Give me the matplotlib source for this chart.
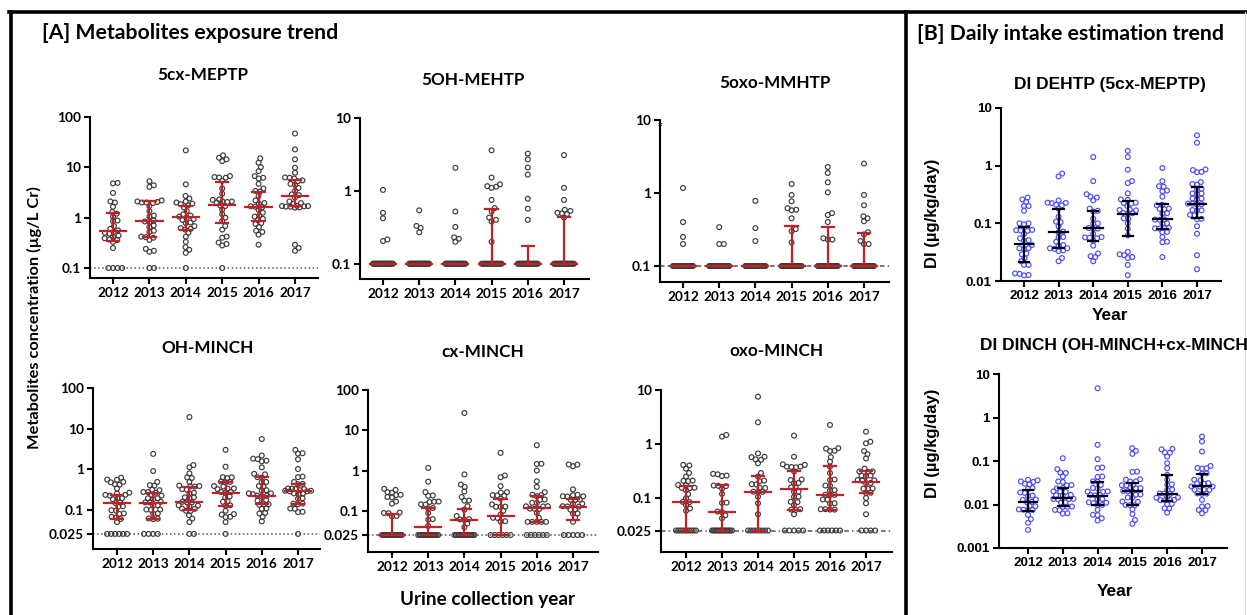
import numpy as np
import matplotlib
matplotlib.use("Agg")
import matplotlib.pyplot as plt
from matplotlib.lines import Line2D

years = ["2012", "2013", "2014", "2015", "2016", "2017"]

# ---- [A] metabolite concentrations (ug/L Cr), one list per year ----
meptp = [
    [4.9, 4.8, 3.1, 2.1, 2.0, 1.65, 1.3, 1.2, 1.05, 0.88, 0.85, 0.68, 0.6, 0.56, 0.52, 0.5, 0.48, 0.44, 0.42, 0.39, 0.37, 0.36, 0.33, 0.25, 0.1, 0.1, 0.1, 0.1],
    [5.3, 4.4, 4.1, 2.2, 2.1, 2.05, 2.0, 2.0, 1.95, 1.7, 1.35, 1.1, 1.05, 0.88, 0.84, 0.82, 0.7, 0.65, 0.55, 0.52, 0.42, 0.41, 0.4, 0.36, 0.24, 0.22, 0.21, 0.1, 0.1],
    [21.7, 4.6, 2.7, 2.4, 2.1, 2.0, 1.9, 1.85, 1.75, 1.6, 1.35, 1.17, 1.1, 1.05, 1.0, 0.93, 0.9, 0.8, 0.78, 0.68, 0.62, 0.6, 0.58, 0.5, 0.42, 0.33, 0.26, 0.23, 0.2, 0.1],
    [17.3, 15.5, 14.4, 13.3, 6.7, 6.4, 6.3, 6.2, 5.4, 3.8, 3.0, 2.3, 2.25, 2.1, 2.1, 2.05, 2.0, 1.75, 1.7, 1.45, 1.17, 1.0, 0.86, 0.68, 0.58, 0.42, 0.4, 0.32, 0.3, 0.28, 0.1],
    [15.1, 12.4, 10.1, 8.4, 6.7, 6.2, 6.0, 4.7, 3.8, 3.4, 3.3, 2.7, 2.2, 1.95, 1.9, 1.68, 1.65, 1.62, 1.42, 1.26, 1.1, 1.05, 0.95, 0.9, 0.78, 0.75, 0.65, 0.55, 0.52, 0.46, 0.29],
    [47, 22.7, 14.4, 9.8, 7.8, 6.3, 6.2, 6.0, 5.5, 5.3, 4.7, 4.5, 3.9, 3.4, 2.9, 2.8, 2.5, 2.1, 1.95, 1.9, 1.72, 1.7, 1.7, 1.68, 1.66, 1.65, 1.6, 1.58, 0.29, 0.25, 0.22],
]
meptp_q1 = [0.34, 0.41, 0.58, 0.78, 0.87, 1.7]
meptp_med = [0.55, 0.84, 1.05, 1.8, 1.65, 2.7]
meptp_q3 = [1.22, 2.1, 1.7, 5.2, 3.3, 5.5]

oh_mehtp = [
    [1.03, 0.5, 0.42, 0.215, 0.205] + [0.1] * 25,
    [0.54, 0.33, 0.31, 0.27] + [0.1] * 26,
    [2.07, 0.52, 0.32, 0.23, 0.22, 0.2] + [0.1] * 24,
    [3.6, 1.52, 1.23, 1.16, 1.14, 1.1, 0.75, 0.58, 0.52, 0.43, 0.4, 0.38, 0.2] + [0.1] * 18,
    [3.25, 2.7, 2.09, 1.67, 0.78, 0.57, 0.4] + [0.1] * 23,
    [3.1, 1.1, 0.75, 0.55, 0.53, 0.5, 0.49, 0.48, 0.43] + [0.1] * 21,
]
oh_mehtp_q1 = [0.1] * 6
oh_mehtp_med = [0.1] * 6
oh_mehtp_q3 = [0.1, 0.1, 0.1, 0.57, 0.175, 0.44]

oxo_mmhtp = [
    [1.17, 0.4, 0.25, 0.2] + [0.1] * 26,
    [0.34, 0.2, 0.2] + [0.1] * 27,
    [0.78, 0.33, 0.22] + [0.1] * 27,
    [1.33, 0.94, 0.77, 0.62, 0.59, 0.58, 0.45, 0.32, 0.3, 0.21] + [0.1] * 20,
    [2.27, 1.88, 1.4, 1.02, 0.53, 0.5, 0.4, 0.24, 0.23, 0.23] + [0.1] * 20,
    [2.53, 0.94, 0.68, 0.48, 0.45, 0.41, 0.29, 0.27, 0.22, 0.2, 0.2] + [0.1] * 19,
]
oxo_mmhtp_q1 = [0.1] * 6
oxo_mmhtp_med = [0.1] * 6
oxo_mmhtp_q3 = [0.1, 0.1, 0.1, 0.35, 0.34, 0.28]

oh_minch = [
    [0.61, 0.55, 0.54, 0.48, 0.47, 0.42, 0.41, 0.33, 0.26, 0.25, 0.23, 0.23, 0.22, 0.19, 0.19, 0.18, 0.15, 0.145, 0.12, 0.118, 0.096, 0.094, 0.08, 0.078, 0.066, 0.064, 0.058, 0.049] + [0.025] * 6,
    [2.36, 0.89, 0.48, 0.4, 0.39, 0.31, 0.3, 0.27, 0.27, 0.26, 0.23, 0.22, 0.19, 0.19, 0.18, 0.155, 0.15, 0.15, 0.127, 0.125, 0.1, 0.1, 0.098, 0.08, 0.078, 0.06, 0.059, 0.058] + [0.025] * 4,
    [19.2, 1.25, 1.1, 0.78, 0.62, 0.6, 0.48, 0.39, 0.38, 0.37, 0.37, 0.32, 0.31, 0.26, 0.25, 0.2, 0.2, 0.19, 0.155, 0.15, 0.15, 0.127, 0.125, 0.12, 0.106, 0.104, 0.093, 0.092, 0.072, 0.06, 0.049] + [0.025] * 2,
    [2.97, 1.14, 0.63, 0.62, 0.6, 0.49, 0.48, 0.47, 0.38, 0.37, 0.33, 0.33, 0.32, 0.27, 0.27, 0.26, 0.21, 0.2, 0.16, 0.155, 0.127, 0.125, 0.093, 0.077, 0.075, 0.066, 0.065, 0.049, 0.025],
    [5.5, 2.15, 1.8, 1.75, 1.6, 1.55, 1.1, 0.76, 0.74, 0.63, 0.61, 0.48, 0.47, 0.38, 0.37, 0.3, 0.29, 0.25, 0.25, 0.24, 0.22, 0.22, 0.21, 0.17, 0.165, 0.135, 0.135, 0.13, 0.106, 0.104, 0.082, 0.08, 0.066, 0.051],
    [2.97, 2.45, 2.4, 1.74, 1.0, 0.65, 0.63, 0.48, 0.43, 0.42, 0.33, 0.33, 0.32, 0.32, 0.3, 0.29, 0.29, 0.28, 0.28, 0.25, 0.25, 0.24, 0.19, 0.185, 0.14, 0.14, 0.135, 0.106, 0.104, 0.088, 0.086, 0.025],
]
oh_minch_q1 = [0.058, 0.058, 0.095, 0.125, 0.135, 0.135]
oh_minch_med = [0.145, 0.145, 0.15, 0.26, 0.22, 0.28]
oh_minch_q3 = [0.23, 0.25, 0.35, 0.47, 0.63, 0.43]

cx_minch = [
    [0.35, 0.33, 0.29, 0.28, 0.25, 0.245, 0.22, 0.215, 0.17, 0.15, 0.09, 0.088, 0.087, 0.074, 0.073] + [0.025] * 16,
    [1.16, 0.53, 0.29, 0.24, 0.235, 0.17, 0.168, 0.165, 0.145, 0.143, 0.117, 0.115, 0.088, 0.062, 0.06, 0.042] + [0.025] * 15,
    [26.9, 0.8, 0.45, 0.39, 0.3, 0.22, 0.18, 0.178, 0.13, 0.107, 0.074, 0.062, 0.061, 0.06, 0.048, 0.039] + [0.025] * 14,
    [2.74, 0.75, 0.68, 0.41, 0.29, 0.285, 0.245, 0.24, 0.235, 0.2, 0.144, 0.127, 0.126, 0.125, 0.1, 0.081, 0.067, 0.066, 0.055, 0.054] + [0.025] * 6,
    [4.25, 1.47, 1.45, 1.0, 0.54, 0.39, 0.29, 0.25, 0.245, 0.23, 0.19, 0.188, 0.158, 0.156, 0.13, 0.129, 0.128, 0.113, 0.112, 0.111, 0.089, 0.067, 0.053, 0.053, 0.053, 0.053, 0.053] + [0.025] * 6,
    [1.41, 1.4, 1.28, 0.34, 0.25, 0.245, 0.23, 0.228, 0.226, 0.19, 0.188, 0.186, 0.15, 0.148, 0.13, 0.128, 0.126, 0.108, 0.106, 0.086, 0.085, 0.067, 0.053] + [0.025] * 5,
]
cx_minch_q1 = [0.025, 0.025, 0.025, 0.025, 0.053, 0.058]
cx_minch_med = [0.025, 0.04, 0.058, 0.075, 0.118, 0.125]
cx_minch_q3 = [0.085, 0.115, 0.11, 0.2, 0.23, 0.2]

oxo_minch = [
    [0.41, 0.4, 0.35, 0.29, 0.25, 0.21, 0.208, 0.205, 0.174, 0.172, 0.155, 0.154, 0.153, 0.14, 0.118, 0.099, 0.085, 0.084, 0.074, 0.064, 0.058] + [0.025] * 10,
    [1.47, 1.37, 0.28, 0.275, 0.26, 0.255, 0.17, 0.168, 0.166, 0.15, 0.119, 0.082, 0.081, 0.056, 0.055, 0.048, 0.042] + [0.025] * 14,
    [7.5, 2.52, 0.67, 0.58, 0.57, 0.52, 0.51, 0.44, 0.29, 0.25, 0.21, 0.205, 0.18, 0.178, 0.155, 0.153, 0.131, 0.13, 0.129, 0.106, 0.08, 0.05] + [0.025] * 8,
    [1.43, 0.58, 0.42, 0.41, 0.38, 0.38, 0.375, 0.37, 0.31, 0.22, 0.215, 0.19, 0.188, 0.158, 0.156, 0.131, 0.13, 0.106, 0.105, 0.085, 0.084, 0.074, 0.062, 0.061, 0.06, 0.05] + [0.025] * 5,
    [2.25, 0.84, 0.82, 0.75, 0.74, 0.57, 0.47, 0.38, 0.29, 0.22, 0.215, 0.17, 0.168, 0.14, 0.138, 0.115, 0.114, 0.113, 0.094, 0.093, 0.08, 0.079, 0.062, 0.062, 0.061, 0.061] + [0.025] * 6,
    [1.69, 1.1, 1.03, 0.74, 0.65, 0.54, 0.35, 0.31, 0.31, 0.305, 0.26, 0.26, 0.255, 0.215, 0.213, 0.21, 0.19, 0.188, 0.15, 0.149, 0.148, 0.125, 0.124, 0.1, 0.08, 0.05] + [0.025] * 4,
]
oxo_minch_q1 = [0.025, 0.025, 0.025, 0.06, 0.06, 0.125]
oxo_minch_med = [0.083, 0.055, 0.13, 0.145, 0.114, 0.195]
oxo_minch_q3 = [0.17, 0.175, 0.26, 0.31, 0.39, 0.31]

# ---- [B] daily intake (ug/kg/day) ----
di_dehtp = [
    [0.28, 0.26, 0.235, 0.2, 0.2, 0.165, 0.1, 0.1, 0.096, 0.077, 0.076, 0.075, 0.074, 0.066, 0.055, 0.051, 0.05, 0.042, 0.037, 0.037, 0.036, 0.03, 0.029, 0.025, 0.022, 0.019, 0.019, 0.0135, 0.0133, 0.0127, 0.0125],
    [0.73, 0.65, 0.25, 0.228, 0.226, 0.224, 0.21, 0.205, 0.18, 0.13, 0.107, 0.105, 0.089, 0.072, 0.07, 0.058, 0.057, 0.048, 0.042, 0.041, 0.037, 0.037, 0.036, 0.034, 0.033, 0.025, 0.022],
    [1.41, 0.54, 0.32, 0.29, 0.28, 0.25, 0.18, 0.165, 0.16, 0.12, 0.1, 0.099, 0.083, 0.081, 0.08, 0.066, 0.058, 0.057, 0.056, 0.055, 0.05, 0.041, 0.03, 0.027, 0.026, 0.022],
    [1.8, 1.41, 0.85, 0.54, 0.5, 0.33, 0.26, 0.255, 0.228, 0.225, 0.22, 0.2, 0.172, 0.17, 0.168, 0.152, 0.15, 0.148, 0.122, 0.12, 0.1, 0.081, 0.062, 0.032, 0.029, 0.028, 0.026, 0.025, 0.019, 0.0126],
    [0.91, 0.54, 0.44, 0.43, 0.37, 0.36, 0.29, 0.21, 0.205, 0.18, 0.178, 0.175, 0.15, 0.148, 0.117, 0.116, 0.115, 0.1, 0.099, 0.084, 0.083, 0.082, 0.081, 0.071, 0.07, 0.058, 0.048, 0.047, 0.026],
    [3.35, 2.5, 0.86, 0.84, 0.78, 0.77, 0.52, 0.48, 0.47, 0.4, 0.39, 0.33, 0.33, 0.32, 0.27, 0.27, 0.26, 0.22, 0.22, 0.215, 0.21, 0.17, 0.168, 0.165, 0.14, 0.138, 0.12, 0.118, 0.089, 0.066, 0.028, 0.016],
]
di_dehtp_q1 = [0.021, 0.038, 0.05, 0.061, 0.08, 0.125]
di_dehtp_med = [0.043, 0.071, 0.083, 0.145, 0.117, 0.22]
di_dehtp_q3 = [0.085, 0.18, 0.165, 0.24, 0.22, 0.42]

di_dinch = [
    [0.037, 0.036, 0.034, 0.033, 0.03, 0.029, 0.024, 0.023, 0.019, 0.0185, 0.016, 0.0155, 0.013, 0.0128, 0.0115, 0.0113, 0.0093, 0.0091, 0.0077, 0.0076, 0.0075, 0.0074, 0.0058, 0.0046, 0.0038, 0.0026],
    [0.116, 0.065, 0.054, 0.053, 0.044, 0.034, 0.033, 0.028, 0.0275, 0.024, 0.0235, 0.02, 0.0198, 0.0196, 0.0166, 0.0164, 0.0162, 0.0135, 0.0134, 0.0133, 0.0132, 0.0112, 0.011, 0.009, 0.0089, 0.0088, 0.0075, 0.0074, 0.0063, 0.0062],
    [4.7, 0.235, 0.11, 0.071, 0.069, 0.044, 0.043, 0.034, 0.0335, 0.028, 0.024, 0.0235, 0.02, 0.0198, 0.0196, 0.0166, 0.0164, 0.0162, 0.0134, 0.0132, 0.0112, 0.011, 0.0108, 0.0098, 0.0097, 0.0075, 0.0058, 0.0057, 0.0048, 0.0043],
    [0.197, 0.171, 0.146, 0.057, 0.056, 0.038, 0.037, 0.034, 0.0335, 0.028, 0.0278, 0.0275, 0.024, 0.0238, 0.0235, 0.0205, 0.0203, 0.02, 0.017, 0.0168, 0.0145, 0.0143, 0.0117, 0.0115, 0.0098, 0.0097, 0.0096, 0.0078, 0.006, 0.0044, 0.0036],
    [0.19, 0.185, 0.157, 0.155, 0.127, 0.089, 0.068, 0.048, 0.037, 0.029, 0.0285, 0.022, 0.0215, 0.018, 0.0178, 0.0176, 0.0147, 0.0145, 0.0143, 0.0128, 0.0127, 0.0126, 0.0125, 0.0103, 0.0101, 0.0082, 0.0081, 0.0065],
    [0.365, 0.28, 0.165, 0.077, 0.069, 0.068, 0.067, 0.052, 0.051, 0.037, 0.036, 0.031, 0.0305, 0.03, 0.026, 0.0258, 0.0256, 0.022, 0.0218, 0.0216, 0.018, 0.0178, 0.0176, 0.0128, 0.0092, 0.009, 0.0075, 0.0074, 0.0063],
]
di_dinch_q1 = [0.0072, 0.009, 0.0098, 0.0098, 0.012, 0.017]
di_dinch_med = [0.0115, 0.014, 0.016, 0.02, 0.017, 0.026]
di_dinch_q3 = [0.022, 0.024, 0.033, 0.032, 0.048, 0.05]

W, H = 1247, 615
RED = "#c42127"
BLUE = "#4b4bff"
GRAY = "#3c3c3c"
FONT_A = "Lato"
FONT_B = "Liberation Sans"

fig = plt.figure(figsize=(W / 100, H / 100), dpi=100)


def px_axes(x0, top, x1, bottom):
    return fig.add_axes([x0 / W, 1 - bottom / H, (x1 - x0) / W, (bottom - top) / H])


def swarm(ax, vals, d=4.6, half=13.0, row_half=10.0):
    """x offsets (data units) for a simple beeswarm, computed in pixel space."""
    vals = np.asarray(vals, float)
    ypx = ax.transData.transform(np.column_stack([np.zeros_like(vals), vals]))[:, 1]
    unit = ax.transData.transform((1, 1))[0] - ax.transData.transform((0, 1))[0]
    off = np.full(len(vals), np.nan)
    # long rows of identical values (detection limit) get squeezed
    u, c = np.unique(vals, return_counts=True)
    for v, n in zip(u, c):
        if n > 1 and (n - 1) * d > 2 * row_half:
            idx = np.where(vals == v)[0]
            off[idx] = np.linspace(-row_half, row_half, n)
    grid = np.linspace(-half, half, 53)
    for i in np.argsort(vals):
        if not np.isnan(off[i]):
            continue
        done = ~np.isnan(off)
        dy = ypx[done] - ypx[i]
        xs = off[done]
        near = np.abs(dy) < d
        cands = [0.0]
        for xj, dyj in zip(xs[near], dy[near]):
            dx = np.sqrt(d * d - dyj * dyj)
            cands += [xj + dx, xj - dx]
        cands = [c for c in sorted(cands, key=abs) if abs(c) <= half]
        for cx in cands:
            if np.all((xs[near] - cx) ** 2 + dy[near] ** 2 >= d * d - 1e-6):
                off[i] = cx
                break
        else:
            # crowded: take the least overlapping spot inside the band
            dist = [np.min((xs[near] - g) ** 2 + dy[near] ** 2) - 0.01 * g * g for g in grid]
            off[i] = grid[int(np.argmax(dist))]
    return off / unit


def panel(rect, xpx, ylim, yticks, ylabels, groups, q1, med, q3,
          point_color, bar_color, font, tsize, med_w, cap_w, half,
          ref=None, ref_style=":"):
    x0, top, x1, bottom = rect
    t12, t17 = xpx
    sp = (t17 - t12) / 5
    ax = px_axes(x0, top, x1, bottom)
    ax.set_yscale("log")
    ax.set_xlim(-(t12 - x0) / sp, 5 + (x1 - t17) / sp)
    ax.set_ylim(*ylim)
    ax.minorticks_off()
    for s in ("top", "right"):
        ax.spines[s].set_visible(False)
    for s in ("left", "bottom"):
        ax.spines[s].set_linewidth(1.5)
    ax.tick_params(width=1.5, length=4.5, pad=2)
    ax.set_xticks(range(6))
    ax.set_xticklabels(years, fontfamily=font, fontweight="bold", fontsize=tsize)
    ax.set_yticks(yticks)
    ax.set_yticklabels(ylabels, fontfamily=font, fontweight="bold", fontsize=tsize)
    if ref is not None:
        ax.axhline(ref, color="#555555", lw=1.1, ls=ref_style, zorder=1)
    for k, vals in enumerate(groups):
        xo = swarm(ax, vals, half=half)
        ax.scatter(k + xo, vals, s=12, facecolors="none", edgecolors=point_color,
                   linewidths=0.85, zorder=2, clip_on=False)
        ax.plot([k, k], [q1[k], q3[k]], color=bar_color, lw=1.6, zorder=3)
        ax.plot([k - cap_w, k + cap_w], [q1[k], q1[k]], color=bar_color, lw=1.6, zorder=3)
        ax.plot([k - cap_w, k + cap_w], [q3[k], q3[k]], color=bar_color, lw=1.6, zorder=3)
        ax.plot([k - med_w, k + med_w], [med[k], med[k]], color=bar_color, lw=1.6, zorder=3)
    return ax


DASHDOT = (0, (3, 2, 1, 2))
TA, TB = 9.8, 9.6
panel((90, 117, 318, 278), (113, 295), (0.0633, 100), [0.1, 1, 10, 100], ["0.1", "1", "10", "100"],
      meptp, meptp_q1, meptp_med, meptp_q3, GRAY, RED, FONT_A, TA, 0.36, 0.17, 13, ref=0.1)
panel((360, 118, 589, 279), (383, 564), (0.0617, 10), [0.1, 1, 10], ["0.1", "1", "10"],
      oh_mehtp, oh_mehtp_q1, oh_mehtp_med, oh_mehtp_q3, GRAY, RED, FONT_A, TA, 0.36, 0.17, 13)
ax3 = panel((660, 120, 889, 282), (683, 864), (0.0604, 10), [0.1, 1, 10], ["0.1", "1", "10"],
            oxo_mmhtp, oxo_mmhtp_q1, oxo_mmhtp_med, oxo_mmhtp_q3, GRAY, RED, FONT_A, TA,
            0.36, 0.17, 13, ref=0.1, ref_style=DASHDOT)
ax3.text(0.0, 0.955, "*", transform=ax3.transAxes, ha="center", va="center", fontsize=7)
panel((1001, 108, 1221, 281), (1024, 1197), (0.01, 10), [0.01, 0.1, 1, 10], ["0.01", "0.1", "1", "10"],
      di_dehtp, di_dehtp_q1, di_dehtp_med, di_dehtp_q3, BLUE, "black", FONT_B, TB,
      0.27, 0.15, 11)
panel((93, 388, 320, 549), (117, 298), (0.0106, 100), [0.025, 0.1, 1, 10, 100],
      ["0.025", "0.1", "1", "10", "100"],
      oh_minch, oh_minch_q1, oh_minch_med, oh_minch_q3, GRAY, RED, FONT_A, TA,
      0.36, 0.17, 13, ref=0.025)
panel((368, 390, 598, 552), (392, 573), (0.00946, 100), [0.025, 0.1, 1, 10, 100],
      ["0.025", "0.1", "1", "10", "100"],
      cx_minch, cx_minch_q1, cx_minch_med, cx_minch_q3, GRAY, RED, FONT_A, TA,
      0.36, 0.17, 13, ref=0.025)
panel((661, 390, 892, 552), (686, 866), (0.01, 10), [0.025, 0.1, 1, 10], ["0.025", "0.1", "1", "10"],
      oxo_minch, oxo_minch_q1, oxo_minch_med, oxo_minch_q3, GRAY, RED, FONT_A, TA,
      0.36, 0.17, 13, ref=0.025, ref_style=DASHDOT)
panel((999, 374, 1227, 548), (1028, 1202), (0.001, 10), [0.001, 0.01, 0.1, 1, 10],
      ["0.001", "0.01", "0.1", "1", "10"],
      di_dinch, di_dinch_q1, di_dinch_med, di_dinch_q3, BLUE, "black", FONT_B, TB,
      0.27, 0.15, 11)


def ftext(x, y, s, font, size, ha="center", rot=0):
    fig.text(x / W, 1 - y / H, s, ha=ha, va="center", fontfamily=font, fontweight="bold",
             fontsize=size, rotation=rot)


# headings and titles
ftext(42, 33, "[A] Metabolites exposure trend", FONT_A, 15.3, ha="left")
ftext(917, 34, "[B] Daily intake estimation trend", FONT_A, 15.3, ha="left")
ftext(203, 75, "5cx-MEPTP", FONT_A, 12.3)
ftext(473, 80, "5OH-MEHTP", FONT_A, 12.3)
ftext(775, 83, "5oxo-MMHTP", FONT_A, 12.3)
ftext(208, 348, "OH-MINCH", FONT_A, 12.3)
ftext(483, 352, "cx-MINCH", FONT_A, 12.3)
ftext(776, 351, "oxo-MINCH", FONT_A, 12.3)
ftext(1110, 85, "DI DEHTP (5cx-MEPTP)", FONT_B, 12.5)
ftext(980, 345, "DI DINCH (OH-MINCH+cx-MINCH", FONT_B, 12.5, ha="left")
ftext(34, 318, "Metabolites concentration (\u00b5g/L Cr)", FONT_A, 11.8, rot=90)
ftext(488, 600, "Urine collection year", FONT_A, 13.6)
ftext(933, 213, "DI (\u00b5g/kg/day)", FONT_B, 12, rot=90)
ftext(933, 443, "DI (\u00b5g/kg/day)", FONT_B, 12, rot=90)
ftext(1110, 315, "Year", FONT_B, 12.5)
ftext(1115, 592, "Year", FONT_B, 12.5)

# panel frames
frame = dict(color="black", lw=2.6, transform=fig.transFigure)
fig.add_artist(Line2D([9 / W, 1], [1 - 11.5 / H] * 2, **frame))
fig.add_artist(Line2D([10.5 / W] * 2, [0, 1 - 11.5 / H], **frame))
fig.add_artist(Line2D([905.5 / W] * 2, [0, 1 - 11.5 / H], **frame))
fig.add_artist(Line2D([1245 / W] * 2, [0, 1 - 11.5 / H], color="#dddddd", lw=0.8,
                      transform=fig.transFigure))

fig.savefig("out.png", dpi=100)
